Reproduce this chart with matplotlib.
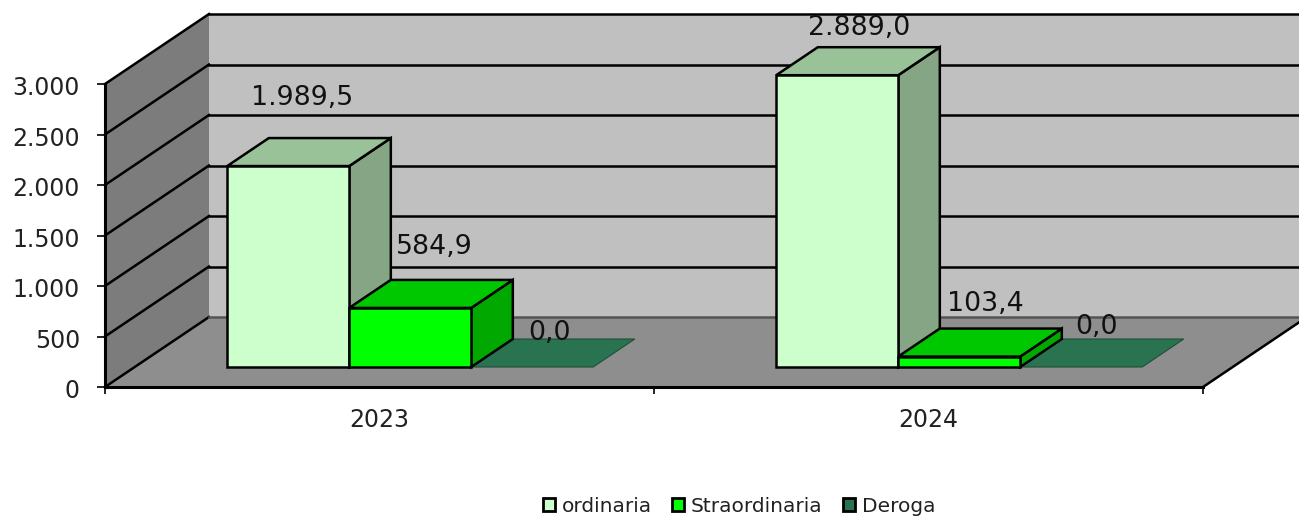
import matplotlib
matplotlib.use('Agg')
import matplotlib.pyplot as plt
from matplotlib.patches import Patch, Polygon
from matplotlib.ticker import FuncFormatter
from matplotlib.transforms import ScaledTranslation

years = ['2023', '2024']
seriesNames = ['ordinaria', 'Straordinaria', 'Deroga']
ordinaria = [1989.5, 2889.0]
straordinaria = [584.9, 103.4]
deroga = [0.0, 0.0]

yticks = [0, 500, 1000, 1500, 2000, 2500, 3000]

frontColors = ['#CCFFCC', '#00FF00', '#2A7350']
topColors = ['#99C299', '#00C800', '#2A7350']
sideColors = ['#85A585', '#00A800', '#2A7350']

# one unit of depth moves a point by these amounts (axes data units)
depthX = 104/549
depthY = 70/0.101
barFront = 20/70       # where the bars start in depth
barBack = 48/70        # where the bars end
barWidth = 2/9
barGap = 1/6 + 1/549

def project(x, v, d):
	return (x + d*depthX, v + d*depthY)

def face(ax, pts, color, lw=1.8, edge='black', z=2):
	ax.add_patch(Polygon(pts, closed=True, facecolor=color, edgecolor=edge,
		linewidth=lw, clip_on=False, joinstyle='miter', zorder=z))

def drawBar(ax, x, v, k):
	x2 = x + barWidth
	f = barFront
	b = barBack
	z = 3 + k*0.1 + x
	if v == 0:
		# empty series, only a flat tile on the floor
		face(ax, [project(x, 0, f), project(x2, 0, f), project(x2, 0, b), project(x, 0, b)],
			topColors[k], lw=0.8, edge='#1F4F38', z=z - 0.5)
		return
	face(ax, [project(x2, 0, f), project(x2, 0, b), project(x2, v, b), project(x2, v, f)], sideColors[k], z=z)
	face(ax, [project(x, v, f), project(x2, v, f), project(x2, v, b), project(x, v, b)], topColors[k], z=z)
	face(ax, [project(x, 0, f), project(x2, 0, f), project(x2, v, f), project(x, v, f)], frontColors[k], z=z)

fig = plt.figure(figsize=(12.99, 5.17), dpi=100)
ax = fig.add_axes([105/1299, (517-387)/517, 1098/1299, 303/517])
ax.patch.set_alpha(0)
ax.set_xlim(0, 2)
ax.set_ylim(0, 3000)

# walls and floor
top = yticks[-1]
face(ax, [project(0, 0, 1), project(2, 0, 1), project(2, top, 1), project(0, top, 1)], '#C0C0C0', lw=0, edge='none', z=0)
face(ax, [project(0, 0, 0), project(0, 0, 1), project(0, top, 1), project(0, top, 0)], '#7C7C7C', lw=0, edge='none', z=0)
face(ax, [project(0, 0, 0), project(2, 0, 0), project(2, 0, 1), project(0, 0, 1)], '#8E8E8E', lw=0, edge='none', z=0.5)

# gridlines run along the left wall and then along the back wall
for v in yticks:
	p0 = project(0, v, 0)
	p1 = project(0, v, 1)
	p2 = project(2, v, 1)
	ax.plot([p0[0], p1[0]], [p0[1], p1[1]], color='black', lw=1.8, clip_on=False, zorder=1)
	ax.plot([p1[0], p2[0]], [p1[1], p2[1]], color='black' if v > 0 else '#555555',
		lw=1.8, clip_on=False, zorder=1)
p0 = project(2, 0, 0)
p1 = project(2, 0, 1)
ax.plot([p0[0], p1[0]], [p0[1], p1[1]], color='black', lw=1.8, clip_on=False, zorder=1)

allSeries = [ordinaria, straordinaria, deroga]
for i in range(len(years)):
	for k, values in enumerate(allSeries):
		drawBar(ax, i + barGap + k*barWidth, values[i], k)

# data labels, offsets in pixels from the centre of the front top edge
nudges = [[(14, 68), (24, 61), (17, 34)], [(22, 47), (26, 53), (15, 40)]]
for i in range(len(years)):
	for k, values in enumerate(allSeries):
		x, y = project(i + barGap + k*barWidth + barWidth/2, values[i], barFront)
		dx, dy = nudges[i][k]
		txt = f'{values[i]:,.1f}'.replace(',', 'X').replace('.', ',').replace('X', '.')
		ax.annotate(txt, (x, y), xytext=(dx*0.72, dy*0.72), textcoords='offset points',
			ha='center', va='center', fontsize=19.3, color='#111111', zorder=8,
			annotation_clip=False)

# axes
for s in ['top', 'right']:
	ax.spines[s].set_visible(False)
for s in ['left', 'bottom']:
	ax.spines[s].set_linewidth(2.2)
	ax.spines[s].set_zorder(6)
ax.set_yticks(yticks)
ax.yaxis.set_major_formatter(FuncFormatter(lambda v, pos: f'{int(v):,}'.replace(',', '.')))
ax.tick_params(axis='y', length=6, width=1.2, pad=12, labelsize=17, labelcolor='#222222')
ax.set_xticks([0, 1, 2])
ax.set_xticklabels([])
ax.set_xticks([0.5, 1.5], minor=True)
ax.set_xticklabels(years, minor=True)
ax.tick_params(axis='x', which='major', length=5, width=1.2)
ax.tick_params(axis='x', which='minor', length=0, pad=15, labelsize=17, labelcolor='#222222')

# tick labels sit a little lower in the original
shift = ScaledTranslation(0, -1.3/72, fig.dpi_scale_trans)
for label in ax.get_yticklabels():
	label.set_transform(label.get_transform() + shift)

handles = [Patch(facecolor=c, edgecolor='black', linewidth=2) for c in frontColors]
fig.legend(handles, seriesNames, loc='center', bbox_to_anchor=(739/1299, 1 - 506/517), ncol=3,
	frameon=False, fontsize=14.5, handlelength=0.6, handleheight=0.6, handletextpad=0.35,
	columnspacing=1.0, labelcolor='#222222', borderpad=0)

fig.savefig('out.png', dpi=100)
